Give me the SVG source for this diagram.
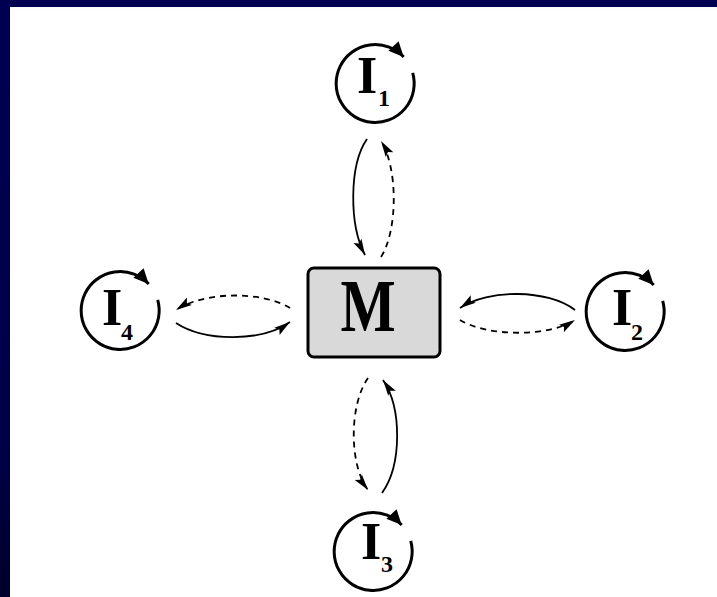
<svg xmlns="http://www.w3.org/2000/svg" width="717" height="597" viewBox="0 0 717 597">
  <defs>
    <linearGradient id="edge" x1="0" y1="0" x2="0" y2="1">
      <stop offset="0" stop-color="#000052"/>
      <stop offset="0.75" stop-color="#000048"/>
      <stop offset="1" stop-color="#00002a"/>
    </linearGradient>
    <!-- slender head for the message connectors -->
    <marker id="head" markerUnits="userSpaceOnUse" markerWidth="17" markerHeight="10" refX="16" refY="5" orient="auto" overflow="visible">
      <path d="M0,0.5 L16,5 L0,9.5 L3,5 z" fill="#000"/>
    </marker>
    <!-- head for the self-loop on each instance -->
    <marker id="loop" markerUnits="userSpaceOnUse" markerWidth="16" markerHeight="14" refX="15" refY="7" orient="auto" overflow="visible">
      <path d="M0,0 L15,7 L0,14 z" fill="#000"/>
    </marker>
    <style>
      .ring { fill: none; stroke: #000; stroke-width: 3; marker-end: url(#loop); }
      .big { font-family: "Liberation Serif", "Times New Roman", serif; font-weight: bold; fill: #000; }
      .sub { font-family: "Liberation Serif", "Times New Roman", serif; font-weight: bold; font-size: 24px; fill: #000; }
      .solid { fill: none; stroke: #000; stroke-width: 1.8; marker-end: url(#head); }
      .dash { fill: none; stroke: #000; stroke-width: 1.8; stroke-dasharray: 6 5; marker-end: url(#head); }
    </style>
  </defs>

  <!-- slide frame -->
  <rect x="0" y="0" width="717" height="597" fill="#000050"/>
  <rect x="0" y="0" width="10" height="597" fill="url(#edge)"/>
  <rect x="10" y="7" width="707" height="590" fill="#fff"/>

  <!-- central process M -->
  <g id="M">
    <rect x="308" y="268" width="132" height="89" rx="6" fill="#d9d9d9" stroke="#000" stroke-width="3"/>
    <text class="big" font-size="75" text-anchor="middle" transform="translate(368,331) scale(0.78,1)">M</text>
  </g>

  <!-- instance I1 (top) -->
  <g id="I1">
    <path class="ring" d="M412.7,72.9 A39,39 0 1 1 403.7,56.9"/>
    <text class="big" font-size="52" x="357" y="93">I</text>
    <text class="sub" x="378" y="106">1</text>
  </g>

  <!-- instance I2 (right) -->
  <g id="I2">
    <path class="ring" d="M662.7,300.9 A39,39 0 1 1 653.7,284.9"/>
    <text class="big" font-size="52" x="612" y="325">I</text>
    <text class="sub" x="631" y="340">2</text>
  </g>

  <!-- instance I3 (bottom) -->
  <g id="I3">
    <path class="ring" d="M410.7,540.9 A39,39 0 1 1 401.7,524.9"/>
    <text class="big" font-size="52" x="361" y="559">I</text>
    <text class="sub" x="381" y="572">3</text>
  </g>

  <!-- instance I4 (left) -->
  <g id="I4">
    <path class="ring" d="M157.7,299.9 A39,39 0 1 1 148.7,283.9"/>
    <text class="big" font-size="52" x="102" y="325">I</text>
    <text class="sub" x="121" y="340">4</text>
  </g>

  <!-- message connectors -->
  <g id="connectors">
    <!-- M <-> I1 -->
    <path class="solid" d="M367,139 C349,165 349,225 365,255"/>
    <path class="dash" d="M381,257 C398,230 398,168 381,141"/>
    <!-- M <-> I3 -->
    <path class="dash" d="M368,378 C349,405 349,465 368,490"/>
    <path class="solid" d="M382,493 C402,465 402,408 383,380"/>
    <!-- M <-> I4 -->
    <path class="dash" d="M290,308 C262,291 205,291 176,310"/>
    <path class="solid" d="M176,323 C205,342 262,342 290,322"/>
    <!-- M <-> I2 -->
    <path class="solid" d="M575,310 C548,289 488,289 460,308"/>
    <path class="dash" d="M460,320 C488,337 548,337 575,320"/>
  </g>
</svg>
